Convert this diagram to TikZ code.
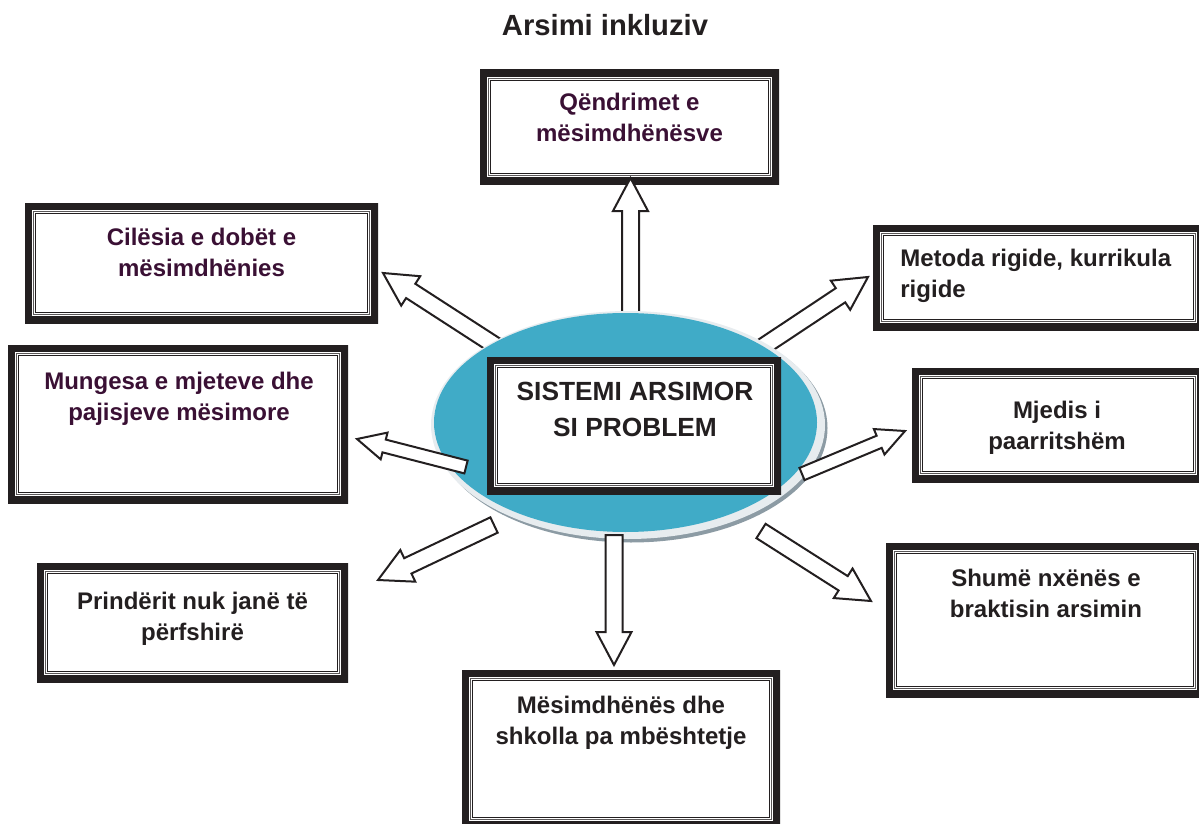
\documentclass[tikz,border=0pt]{standalone}
\usepackage{fontspec}
\setmainfont{Liberation Sans}
\usetikzlibrary{calc}

\definecolor{inkdark}{RGB}{35,31,32}
\definecolor{inkplum}{RGB}{58,16,52}
\definecolor{ovalblue}{RGB}{64,171,199}
\definecolor{ovalrim}{RGB}{231,236,239}
\definecolor{ovalshade}{RGB}{140,155,164}

% hollow block arrow: tail, tip, shaft half-width, head half-width, head length
\newcommand\blockarrow[5]{%
  \draw[arrowline]
    ($(#1)!#3!90:(#2)$)
    -- ($(#2)!#5!(#1)!#3!90:(#2)$)
    -- ($(#2)!#5!(#1)!#4!90:(#2)$)
    -- (#2)
    -- ($(#2)!#5!(#1)!#4!-90:(#2)$)
    -- ($(#2)!#5!(#1)!#3!-90:(#2)$)
    -- ($(#1)!#3!-90:(#2)$)
    -- cycle;}
\newcommand\widearrow[2]{\blockarrow{#1}{#2}{4.25pt}{8.75pt}{16.5pt}}
\newcommand\narrowarrow[2]{\blockarrow{#1}{#2}{3.3pt}{6.9pt}{14pt}}

\tikzset{
  arrowline/.style={draw=inkdark, fill=white, line width=1pt, line join=miter, miter limit=10},
  framebox/.style={rectangle, draw=none, fill=white, inner sep=0pt,
    path picture={
      \draw[line width=7pt, inkdark]
        (path picture bounding box.south west) rectangle (path picture bounding box.north east);
      \draw[line width=0.45pt, inkdark!75]
        ([shift={(4.3pt,4.3pt)}]path picture bounding box.south west) rectangle
        ([shift={(-4.3pt,-4.3pt)}]path picture bounding box.north east);
      \draw[line width=0.45pt, inkdark]
        ([shift={(5.4pt,5.4pt)}]path picture bounding box.south west) rectangle
        ([shift={(-5.4pt,-5.4pt)}]path picture bounding box.north east);
    }},
  boxtext/.style={font=\fontsize{12pt}{15.5pt}\selectfont\bfseries, align=center,
    inner sep=0pt, anchor=north, text=inkdark},
  plumtext/.style={boxtext, text=inkplum},
}

\begin{document}
\begin{tikzpicture}[x=0.5pt, y=-0.5pt]
\useasboundingbox (0,0) rectangle (1199,824);
\clip (0,0) rectangle (1199,824);

% title
\node[font=\fontsize{14.6pt}{17pt}\selectfont\bfseries, text=inkdark, anchor=base, inner sep=0pt]
  (title) at (605,36) {Arsimi inkluziv};

% outer boxes
\node[framebox, minimum width=149.5pt, minimum height=57pt]   (qend) at (629.5,127) {};
\node[framebox, minimum width=176.5pt, minimum height=60pt]   (cil)  at (201.5,263) {};
\node[framebox, minimum width=165.5pt, minimum height=52.5pt] (met)  at (1038.5,277.5) {};
\node[framebox, minimum width=170pt,   minimum height=79pt]   (mun)  at (178,424) {};
\node[framebox, minimum width=146pt,   minimum height=57pt]   (mje)  at (1058,425) {};
\node[framebox, minimum width=155.5pt, minimum height=59.5pt] (pri)  at (192.5,622.5) {};
\node[framebox, minimum width=159pt,   minimum height=77pt]   (shu)  at (1045,620) {};
\node[framebox, minimum width=159pt,   minimum height=79pt]   (mes)  at (621,749) {};

% arrow ends
\coordinate (qend-tail) at (630.5,322);
\coordinate (qend-tip)  at (630.5,178);
\coordinate (cil-tail)  at (499,348);
\coordinate (cil-tip)   at (383,273);
\coordinate (met-tail)  at (755,352);
\coordinate (met-tip)   at (868,277);
\coordinate (mun-tail)  at (466,467);
\coordinate (mun-tip)   at (357,439);
\coordinate (mje-tail)  at (802,474);
\coordinate (mje-tip)   at (905,431);
\coordinate (pri-tail)  at (494,525);
\coordinate (pri-tip)   at (378,580);
\coordinate (shu-tail)  at (761,531);
\coordinate (shu-tip)   at (871,601);
\coordinate (mes-tail)  at (614,535);
\coordinate (mes-tip)   at (614,665);

% arrows passing beneath the oval
\widearrow{qend-tail}{qend-tip}
\widearrow{cil-tail}{cil-tip}
\widearrow{met-tail}{met-tip}

% the oval with its rim and shade
\fill[ovalshade] (631,428) ellipse [x radius=98.25pt, y radius=57.25pt];
\fill[ovalrim]   (628,425) ellipse [x radius=98.5pt, y radius=57pt];
\fill[ovalblue]  (625.5,422.5) ellipse [x radius=95.75pt, y radius=54.75pt];

% arrows lying on the oval
\narrowarrow{mun-tail}{mun-tip}
\narrowarrow{mje-tail}{mje-tip}
\widearrow{pri-tail}{pri-tip}
\widearrow{shu-tail}{shu-tip}
\widearrow{mes-tail}{mes-tip}

% central box
\node[framebox, minimum width=147pt, minimum height=68.5pt] (sys) at (634,425.5) {};

% texts
\node[plumtext] (qend-t) at (629.5,93) {Qëndrimet e\\mësimdhënësve};
\node[plumtext] (cil-t)  at (201.5,228) {Cilësia e dobët e\\mësimdhënies};
\node[boxtext, align=left, anchor=north west] (met-t) at (900,249) {Metoda rigide, kurrikula\\rigide};
\node[plumtext] (mun-t)  at (179,372) {Mungesa e mjeteve dhe\\pajisjeve mësimore};
\node[boxtext]  (mje-t)  at (1057,401) {Mjedis i\\paarritshëm};
\node[boxtext]  (pri-t)  at (192.5,592) {Prindërit nuk janë të\\përfshirë};
\node[boxtext]  (shu-t)  at (1046,569) {Shumë nxënës e\\braktisin arsimin};
\node[boxtext]  (mes-t)  at (621,696) {Mësimdhënës dhe\\shkolla pa mbështetje};
\node[boxtext, font=\fontsize{13.15pt}{18pt}\selectfont\bfseries] (sys-t) at (635,381.6)
  {SISTEMI ARSIMOR\\SI PROBLEM};
\end{tikzpicture}
\end{document}
